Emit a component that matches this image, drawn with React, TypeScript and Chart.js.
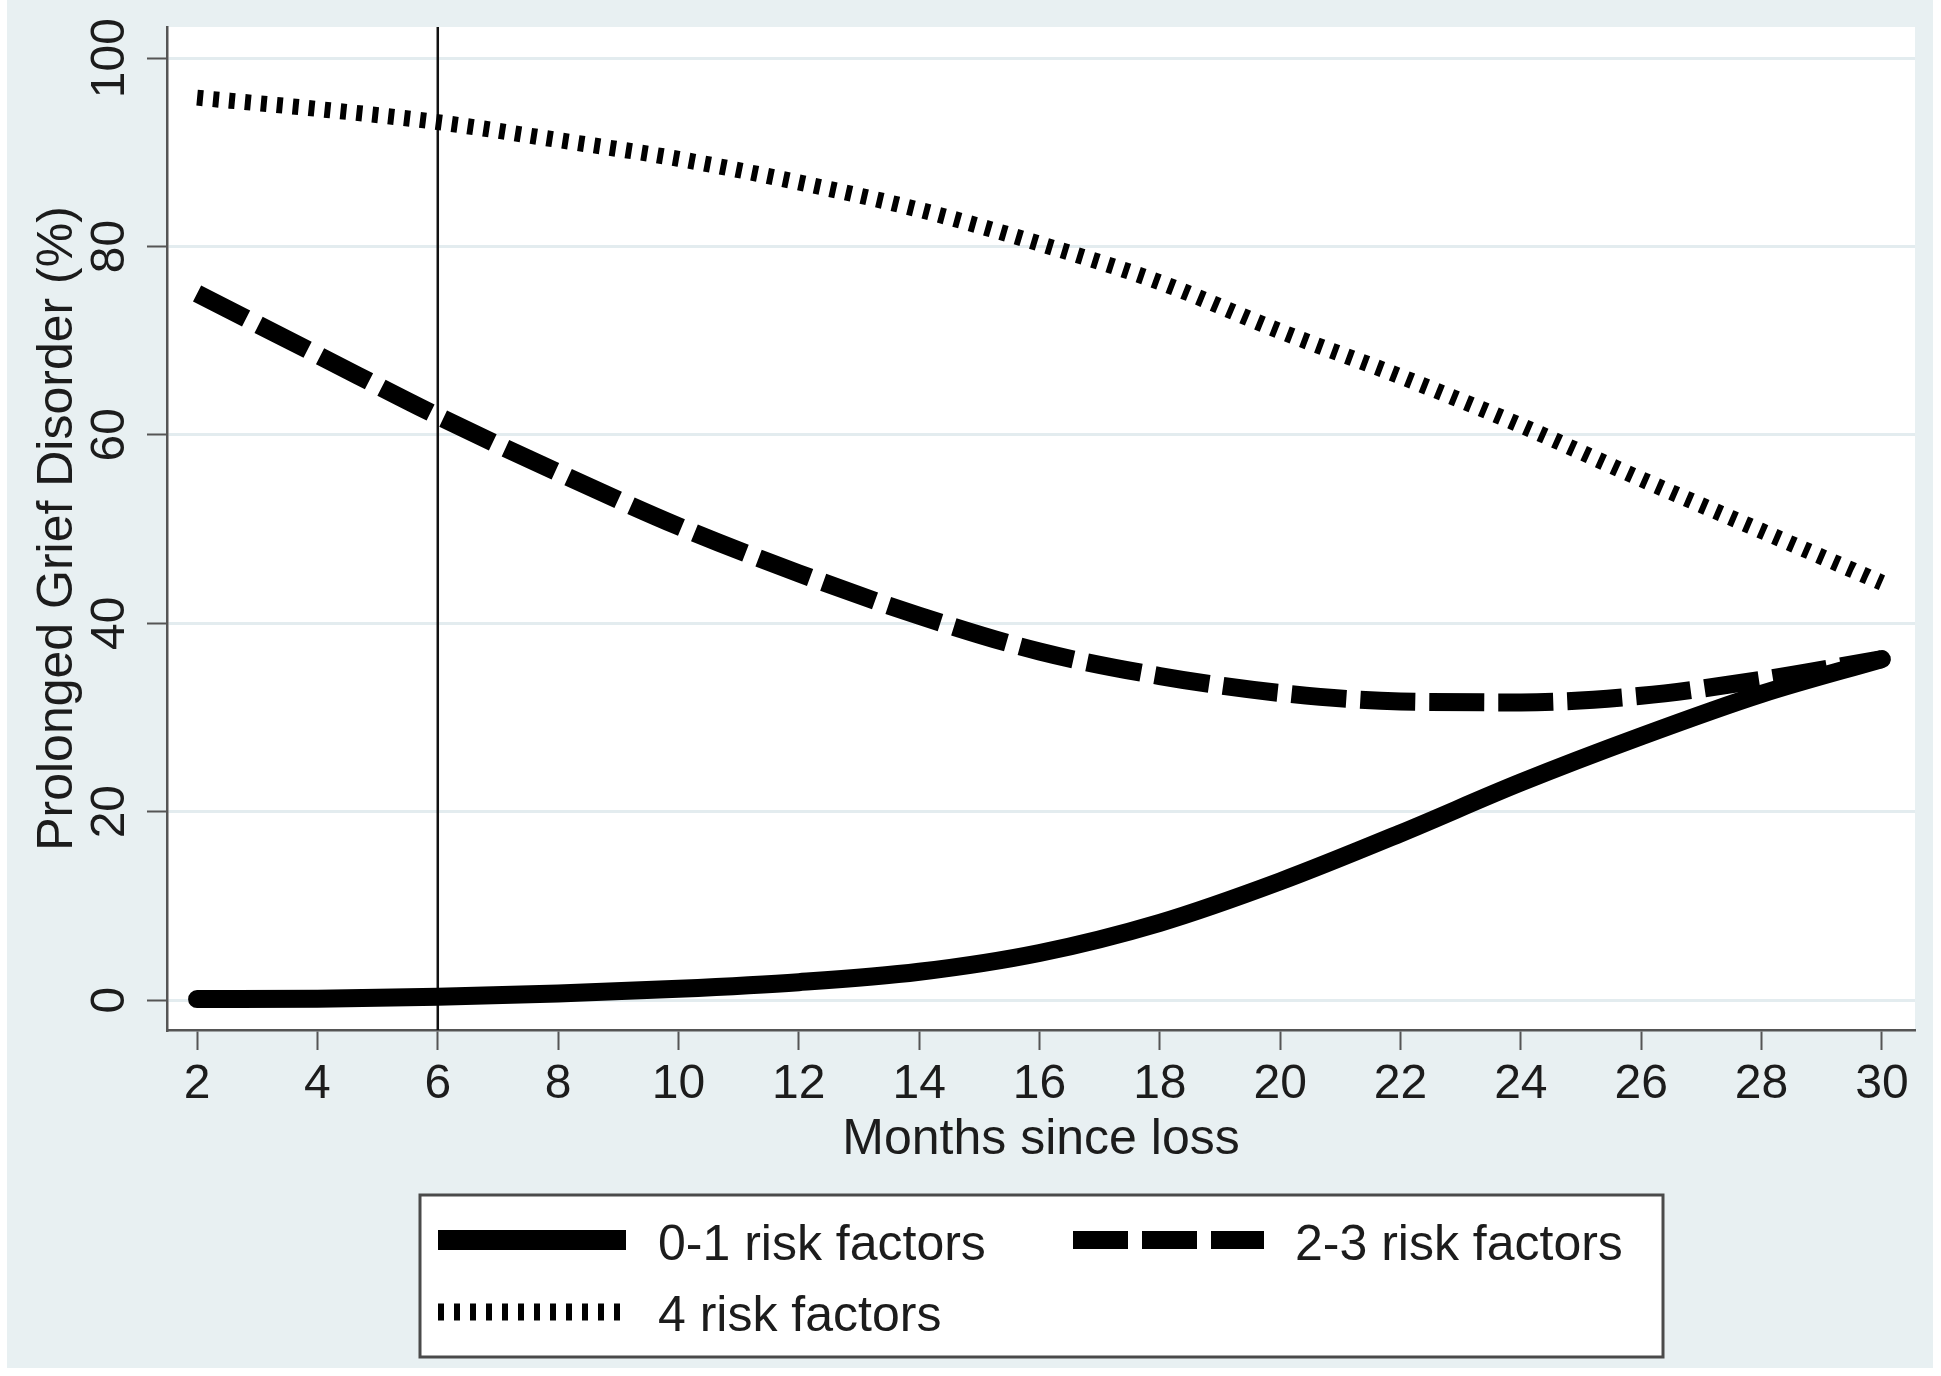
import React, { useEffect, useRef } from "react";
import { Chart, registerables } from "chart.js";

Chart.register(...registerables);

// ---- data ----
const months = [2, 4, 6, 8, 10, 12, 14, 16, 18, 20, 22, 24, 26, 28, 30];
const risk01 = [0.1, 0.15, 0.35, 0.7, 1.2, 1.9, 3.0, 5.0, 8.2, 12.6, 17.7, 23.1, 28.0, 32.5, 36.2];
const risk23 = [75, 68.5, 62, 56, 50.3, 45.3, 40.8, 37, 34.4, 32.6, 31.7, 31.6, 32.3, 34, 36.2];
const risk4 = [95.8, 94.6, 93.2, 91.3, 89.3, 86.8, 83.9, 80.3, 76.2, 71.0, 66.2, 61.0, 55.3, 49.8, 44.3];
const seriesLabels = ["0-1 risk factors", "2-3 risk factors", "4 risk factors"];
const xTickValues = [2, 4, 6, 8, 10, 12, 14, 16, 18, 20, 22, 24, 26, 28, 30];
const yTickValues = [0, 20, 40, 60, 80, 100];
const markerMonth = 6;
const xTitle = "Months since loss";
const yTitle = "Prolonged Grief Disorder (%)";

const X_MIN = 1.5;
const X_MAX = 30.55;
const Y_MIN = -3.18;
const Y_MAX = 103.3;

const FONT = "'Liberation Sans', Arial, Helvetica, sans-serif";
const TEXT = "#1c1c1c";
const AXIS = "#555555";
const BG = "#e8f0f2";
const GRID = "#e3ecef";

const pts = (ys: number[]) => months.map((m, i) => ({ x: m, y: ys[i] }));

const framePlugin = {
  id: "frame",
  beforeDraw(chart: any) {
    const { ctx, chartArea } = chart;
    ctx.save();
    ctx.fillStyle = "#ffffff";
    ctx.fillRect(0, 0, chart.width, chart.height);
    ctx.fillStyle = BG;
    ctx.fillRect(7, 0, 1926, 1368);
    ctx.fillStyle = "#ffffff";
    ctx.fillRect(chartArea.left, chartArea.top, chartArea.right - chartArea.left, chartArea.bottom - chartArea.top);
    ctx.restore();
  },
  afterDraw(chart: any) {
    const { ctx, chartArea } = chart;
    const ys = chart.scales.y;
    ctx.save();
    // rotated y tick labels
    ctx.fillStyle = TEXT;
    ctx.font = `48px ${FONT}`;
    ctx.textAlign = "center";
    ctx.textBaseline = "alphabetic";
    ys.ticks.forEach((t: any) => {
      const py = ys.getPixelForValue(t.value);
      ctx.save();
      ctx.translate(124, py);
      ctx.rotate(-Math.PI / 2);
      ctx.fillText(String(t.value), 0, 0);
      ctx.restore();
    });
    ctx.restore();

    // legend box
    const cx = (chartArea.left + chartArea.right) / 2;
    const W = 1243;
    const H = 162;
    const L = Math.round(cx - W / 2);
    const T = chartArea.bottom + 165;
    ctx.save();
    ctx.fillStyle = "#ffffff";
    ctx.fillRect(L, T, W, H);
    ctx.strokeStyle = "#4a4a4a";
    ctx.lineWidth = 3;
    ctx.strokeRect(L, T, W, H);

    const layout = [
      { sx: 18, ex: 206, sy: 45, tx: 238, ty: 65 },
      { sx: 653, ex: 844, sy: 45, tx: 875, ty: 65 },
      { sx: 18, ex: 201, sy: 117, tx: 238, ty: 136 },
    ];
    const dsets = chart.data.datasets;
    layout.forEach((p, i) => {
      const ds = dsets[i];
      ctx.save();
      ctx.strokeStyle = ds.borderColor;
      ctx.lineWidth = i === 0 ? 20 : i === 2 ? 17 : ds.borderWidth;
      ctx.setLineDash(ds.borderDash || []);
      ctx.lineCap = "butt";
      ctx.beginPath();
      ctx.moveTo(L + p.sx, T + p.sy);
      ctx.lineTo(L + p.ex, T + p.sy);
      ctx.stroke();
      ctx.restore();
      ctx.fillStyle = TEXT;
      ctx.font = `50px ${FONT}`;
      ctx.textAlign = "left";
      ctx.textBaseline = "alphabetic";
      ctx.fillText(ds.label, L + p.tx, T + p.ty);
    });
    ctx.restore();
  },
};

export default function App() {
  const ref = useRef<HTMLCanvasElement | null>(null);

  useEffect(() => {
    document.body.style.margin = "0";
    const canvas = ref.current;
    if (!canvas) return;
    const chart = new Chart(canvas, {
      type: "line",
      data: {
        datasets: [
          {
            label: seriesLabels[0],
            data: pts(risk01),
            borderColor: "#000000",
            backgroundColor: "#000000",
            borderWidth: 18,
            borderCapStyle: "round",
            borderDash: [],
            pointRadius: 0,
            cubicInterpolationMode: "monotone",
            fill: false,
            order: 1,
          },
          {
            label: seriesLabels[1],
            data: pts(risk23),
            borderColor: "#000000",
            backgroundColor: "#000000",
            borderWidth: 18,
            borderCapStyle: "butt",
            borderDash: [55, 14],
            pointRadius: 0,
            cubicInterpolationMode: "monotone",
            fill: false,
            order: 2,
          },
          {
            label: seriesLabels[2],
            data: pts(risk4),
            borderColor: "#000000",
            backgroundColor: "#000000",
            borderWidth: 16,
            borderCapStyle: "butt",
            borderDash: [6, 10],
            pointRadius: 0,
            cubicInterpolationMode: "monotone",
            fill: false,
            order: 3,
          },
          {
            label: "marker",
            data: [
              { x: markerMonth, y: Y_MIN },
              { x: markerMonth, y: Y_MAX },
            ],
            borderColor: "#111111",
            borderWidth: 2.5,
            pointRadius: 0,
            fill: false,
            order: 10,
          },
        ] as any,
      },
      options: {
        responsive: false,
        animation: false,
        parsing: true,
        layout: { padding: { left: 0, right: 26, top: 27, bottom: 206 } },
        plugins: {
          legend: { display: false },
          tooltip: { enabled: false },
        },
        scales: {
          x: {
            type: "linear",
            min: X_MIN,
            max: X_MAX,
            afterBuildTicks: (s: any) => {
              s.ticks = xTickValues.map((v) => ({ value: v }));
            },
            afterFit: (s: any) => {
              s.height = 140;
            },
            ticks: {
              autoSkip: false,
              maxRotation: 0,
              minRotation: 0,
              padding: 6,
              color: TEXT,
              font: { family: FONT, size: 48 },
            },
            grid: {
              drawOnChartArea: false,
              drawTicks: true,
              tickLength: 20,
              tickColor: AXIS,
              tickWidth: 2,
            },
            border: { display: true, color: AXIS, width: 2.5 },
            title: {
              display: true,
              text: xTitle,
              color: TEXT,
              font: { family: FONT, size: 50 },
              padding: 0,
            },
          },
          y: {
            type: "linear",
            min: Y_MIN,
            max: Y_MAX,
            afterBuildTicks: (s: any) => {
              s.ticks = yTickValues.map((v) => ({ value: v }));
            },
            afterFit: (s: any) => {
              s.width = 167;
            },
            ticks: { display: false },
            grid: {
              drawOnChartArea: true,
              color: GRID,
              lineWidth: 3,
              drawTicks: true,
              tickLength: 20,
              tickColor: AXIS,
              tickWidth: 2,
            },
            border: { display: true, color: AXIS, width: 2.5 },
            title: {
              display: true,
              text: yTitle,
              color: TEXT,
              font: { family: FONT, size: 50 },
              padding: { top: 28, bottom: 0 },
            },
          },
        },
      } as any,
      plugins: [framePlugin],
    });
    return () => chart.destroy();
  }, []);

  return (
    <div style={{ width: 1941, height: 1376, overflow: "hidden" }}>
      <canvas ref={ref} width={1941} height={1376} style={{ display: "block" }} />
    </div>
  );
}
